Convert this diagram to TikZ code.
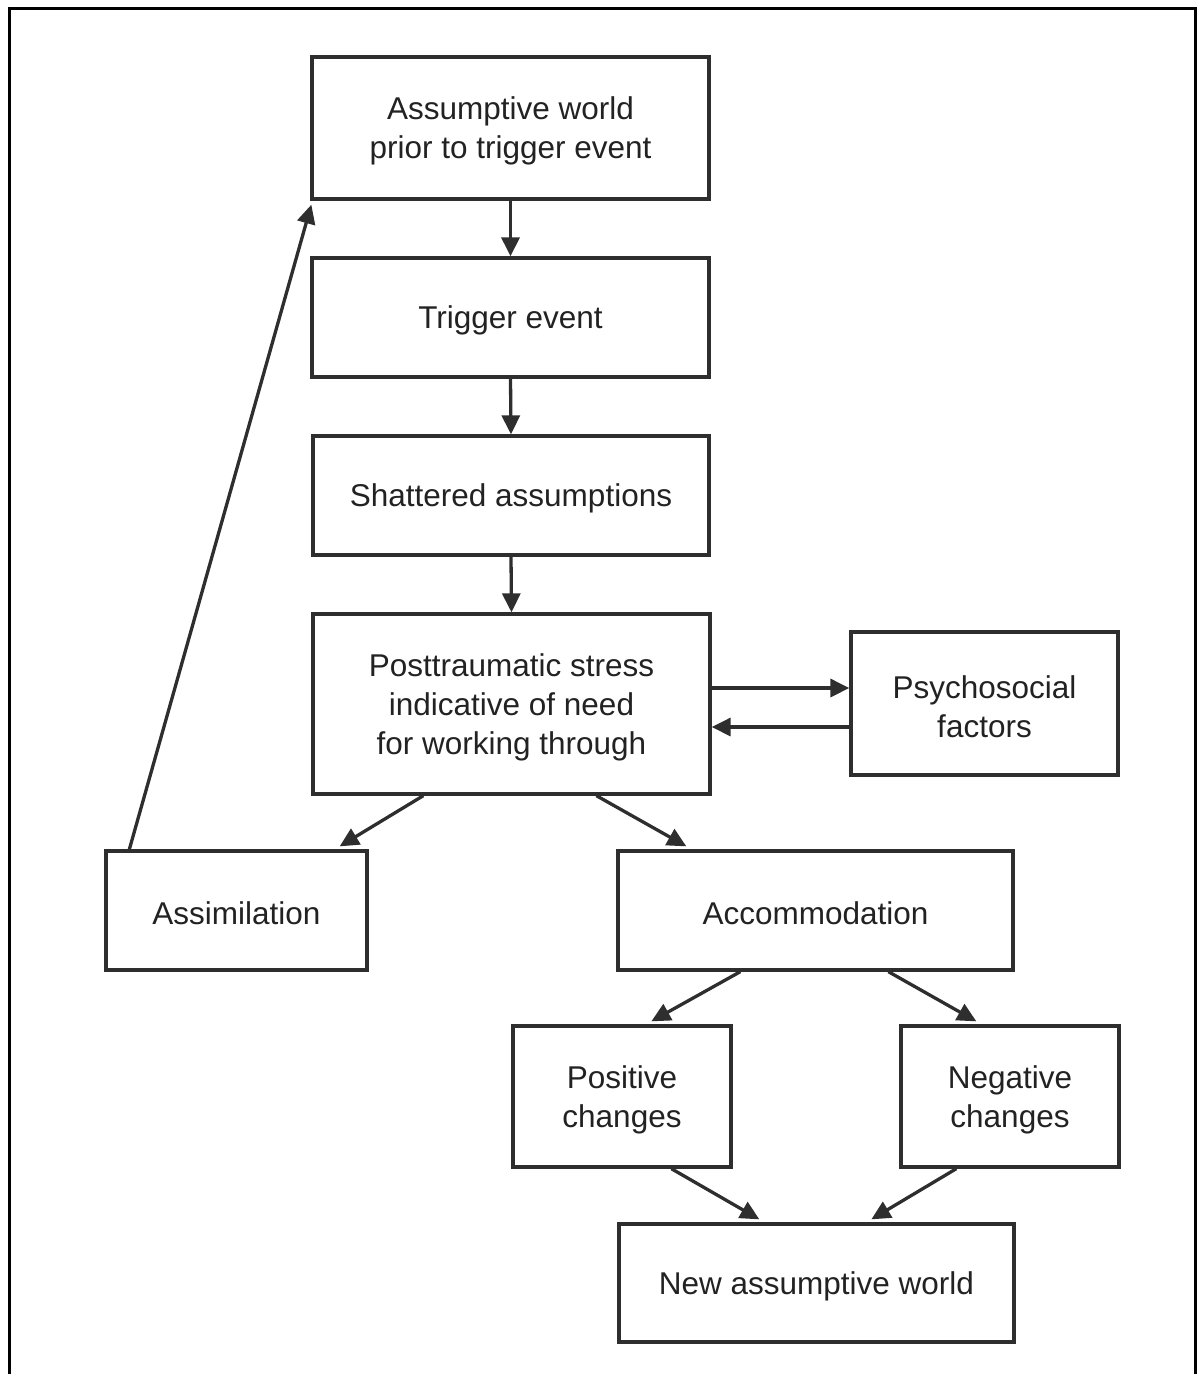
\documentclass[tikz,border=0pt]{standalone}
\usepackage{fontspec}
\setmainfont{Liberation Sans}
\usetikzlibrary{calc,arrows.meta}
\definecolor{ink}{HTML}{2E2E2E}
\definecolor{txt}{HTML}{222222}
\begin{document}
\begin{tikzpicture}[x=1pt,y=-1pt,
  box/.style={draw=ink,line width=3.3pt,rectangle,inner sep=0pt},
  boxtext/.style={align=center,text=txt,yshift=-3pt,
    font=\fontsize{31.5pt}{39pt}\selectfont},
  flow/.style={draw=ink,line width=3.3pt,-{Triangle[length=19pt,width=18pt]}}]
  \useasboundingbox (0,0) rectangle (1200,1374);
  % open frame around the chart
  \draw[black,line width=3pt] (9,1380) -- (9,8) -- (1195,8) -- (1195,1380);

  \node[box,minimum width=397pt,minimum height=142pt,
    label={[boxtext]center:{Assumptive world\\prior to trigger event}}]
    (world) at (510.5,128) {};
  \node[box,minimum width=397pt,minimum height=119pt,
    label={[boxtext]center:{Trigger event}}]
    (trigger) at (510.5,317.5) {};
  \node[box,minimum width=396pt,minimum height=119pt,
    label={[boxtext]center:{Shattered assumptions}}]
    (shatter) at (511,495.5) {};
  \node[box,minimum width=397pt,minimum height=180pt,
    label={[boxtext]center:{Posttraumatic stress\\indicative of need\\for working through}}]
    (stress) at (511.5,704) {};
  \node[box,minimum width=267pt,minimum height=143pt,
    label={[boxtext]center:{Psychosocial\\factors}}]
    (psycho) at (984.5,703.5) {};
  \node[box,minimum width=261pt,minimum height=119pt,
    label={[boxtext]center:{Assimilation}}]
    (assim) at (236.5,910.5) {};
  \node[box,minimum width=395pt,minimum height=119pt,
    label={[boxtext]center:{Accommodation}}]
    (accom) at (815.5,910.5) {};
  \node[box,minimum width=218pt,minimum height=141pt,
    label={[boxtext]center:{Positive\\changes}}]
    (pos) at (622,1096.5) {};
  \node[box,minimum width=218pt,minimum height=141pt,
    label={[boxtext]center:{Negative\\changes}}]
    (neg) at (1010,1096.5) {};
  \node[box,minimum width=395pt,minimum height=118pt,
    label={[boxtext]center:{New assumptive world}}]
    (newworld) at (816.5,1283) {};

  % main sequence
  \draw[flow] (world.south) -- (trigger.north);
  \draw[flow] (trigger.south) -- (shatter.north);
  \draw[flow] (shatter.south) -- (stress.north);

  % exchange with psychosocial factors
  \draw[flow] ($(stress.east)+(0,-16)$) -- ($(psycho.west)+(0,-15.5)$);
  \draw[flow] ($(psycho.west)+(0,23.5)$) -- ($(stress.east)+(0,23)$);

  % branching into assimilation and accommodation
  \draw[flow] ($(stress.south west)+(112,0)$) -- ($(assim.north east)+(-29,-3)$);
  \draw[flow] ($(stress.south west)+(285,0)$) -- ($(accom.north west)+(70,-3)$);

  % assimilation returns to the prior world
  \draw[flow] ($(assim.north west)+(25,0)$) -- ($(world.south west)+(1,4)$);

  % outcomes of accommodation
  \draw[flow] ($(accom.south west)+(124,0)$) -- ($(pos.north west)+(140,-3)$);
  \draw[flow] ($(accom.south west)+(272,0)$) -- ($(neg.north west)+(77,-3)$);
  \draw[flow] ($(pos.south west)+(160,0)$) -- ($(newworld.north west)+(142,-3)$);
  \draw[flow] ($(neg.south west)+(57,0)$) -- ($(newworld.north west)+(254,-3)$);
\end{tikzpicture}
\end{document}
